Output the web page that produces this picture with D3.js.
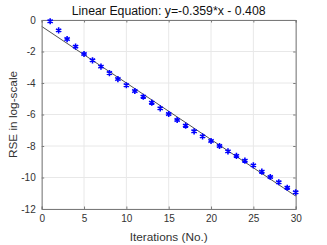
<!DOCTYPE html>
<html><head><meta charset="utf-8">
<script src="https://cdn.jsdelivr.net/npm/d3@7"></script>
<style>body{margin:0;background:#fff}svg{display:block}</style>
</head><body>
<script>
const iterations = [1,2,3,4,5,6,7,8,9,10,11,12,13,14,15,16,17,18,19,20,21,22,23,24,25,26,27,28,29,30];
const rseLog = [-0.08,-0.66,-1.21,-1.69,-2.16,-2.56,-2.96,-3.37,-3.75,-4.14,-4.51,-4.87,-5.25,-5.61,-5.97,-6.35,-6.71,-7.07,-7.39,-7.68,-8.0,-8.34,-8.63,-8.93,-9.23,-9.63,-9.97,-10.3,-10.65,-10.94];
const slope = -0.359, intercept = -0.408;
const xTicks = [0,5,10,15,20,25,30];
const yTicks = [0,-2,-4,-6,-8,-10,-12];
const titleText = "Linear Equation: y=-0.359*x - 0.408";
const xLabel = "Iterations (No.)";
const yLabel = "RSE in log-scale";

const W = 327, H = 245;
const L = 41.7, R = 295.7, T = 20, B = 209;
const svg = d3.select("body").append("svg").attr("width", W).attr("height", H);
const x = d3.scaleLinear().domain([0,30]).range([L,R]);
const y = d3.scaleLinear().domain([-12,0]).range([B,T]);
const font = "Liberation Sans, Arial, sans-serif";

// grid
const g = svg.append("g");
g.selectAll(".gx").data(xTicks).join("line")
  .attr("x1", d=>x(d)).attr("x2", d=>x(d)).attr("y1", T).attr("y2", B)
  .attr("stroke", "#e8e8e8").attr("stroke-width", 1);
g.selectAll(".gy").data(yTicks).join("line")
  .attr("y1", d=>y(d)).attr("y2", d=>y(d)).attr("x1", L).attr("x2", R)
  .attr("stroke", "#e8e8e8").attr("stroke-width", 1);

// fitted line
svg.append("line")
  .attr("x1", x(0)).attr("y1", y(intercept))
  .attr("x2", x(30)).attr("y2", y(slope*30+intercept))
  .attr("stroke", "#222").attr("stroke-width", 0.8);

// axes
const xAxis = d3.axisBottom(x).tickValues(xTicks).tickSize(-2.5).tickPadding(6).tickFormat(d3.format("d"));
const yAxis = d3.axisLeft(y).tickValues(yTicks).tickSize(-2.5).tickPadding(6).tickFormat(d=>d===0?"0":"-"+Math.abs(d));
const xa = svg.append("g").attr("transform", `translate(0,${B})`).call(xAxis);
const ya = svg.append("g").attr("transform", `translate(${L},0)`).call(yAxis);
const xa2 = svg.append("g").attr("transform", `translate(0,${T})`).call(d3.axisTop(x).tickValues(xTicks).tickSize(-2.5).tickFormat(""));
const ya2 = svg.append("g").attr("transform", `translate(${R},0)`).call(d3.axisRight(y).tickValues(yTicks).tickSize(-2.5).tickFormat(""));
[xa,ya,xa2,ya2].forEach(a=>{
  a.selectAll("path.domain").attr("stroke","#7a7a7a").attr("stroke-width",1);
  a.selectAll(".tick line").attr("stroke","#7a7a7a");
  a.selectAll("text").attr("font-family",font).attr("font-size",10).attr("fill","#333");
});

// points
svg.append("g").selectAll("path").data(iterations.map((d,i)=>[d,rseLog[i]])).join("path")
  .attr("transform", d=>`translate(${x(d[0])},${y(d[1])})`)
  .attr("d", d3.symbol(d3.symbolAsterisk, 26)())
  .attr("fill","none").attr("stroke","#0000ff").attr("stroke-width",1.6);

// labels
svg.append("text").attr("x", (L+R)/2).attr("y", 15).attr("text-anchor","middle")
  .attr("font-family",font).attr("font-size",12.3).attr("fill","#111").text(titleText);
svg.append("text").attr("x", (L+R)/2).attr("y", 240.5).attr("text-anchor","middle")
  .attr("font-family",font).attr("font-size",11.8).attr("fill","#333").text(xLabel);
svg.append("text").attr("transform", `translate(17,${(T+B)/2}) rotate(-90)`).attr("text-anchor","middle")
  .attr("font-family",font).attr("font-size",11.8).attr("fill","#333").text(yLabel);
</script>
</body></html>
